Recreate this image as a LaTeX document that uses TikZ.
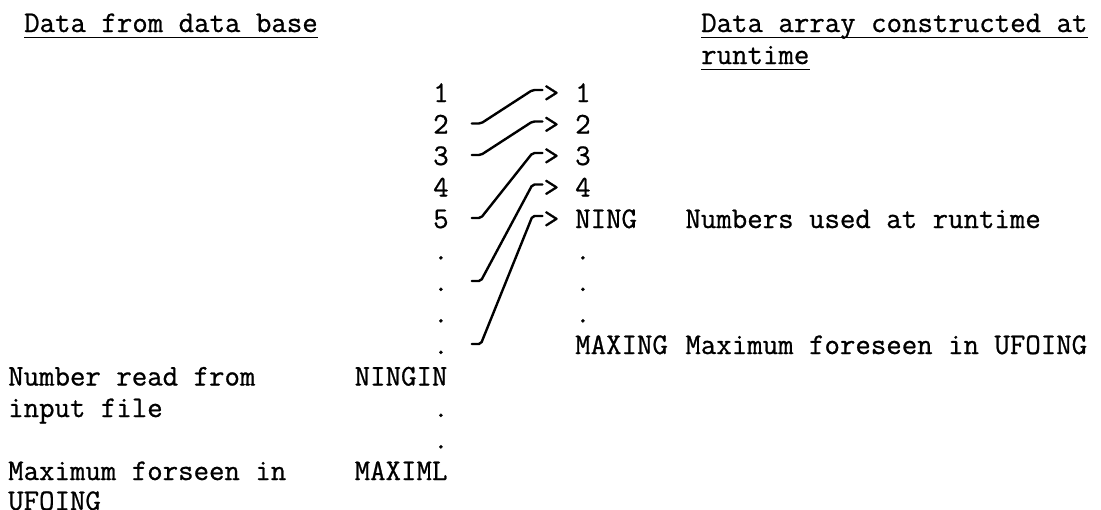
\documentclass[tikz,border=0pt]{standalone}
\usepackage{fontspec}
\usepackage{tikz}
\usetikzlibrary{calc}
\newfontfamily\typewriter{Latin Modern Mono}[FakeBold=0.8]

\begin{document}
\begin{tikzpicture}[x=1pt,y=-1pt]
		\useasboundingbox (0,0) rectangle (1101,509);
		\begin{scope}[every node/.style={anchor=base west,inner sep=0pt,text height=20pt,text depth=0pt,font=\typewriter\fontsize{30}{36}\selectfont}]
			% headings
			\node (hbase) at (24,32) {Data from data base};
			\node (harray) at (701,32) {Data array constructed at};
			\node (harray2) at (701,64) {runtime};

			% numbers in the data base
			\node (l1) at (433,102) {1};
			\node (l2) at (433,133.5) {2};
			\node (l3) at (433,165) {3};
			\node (l4) at (433,196.5) {4};
			\node (l5) at (433,228) {5};
			\node (ld1) at (433,259.5) {.};
			\node (ld2) at (433,291) {.};
			\node (ld3) at (433,322.5) {.};
			\node (ld4) at (433,354) {.};
			\node (ningin) at (354.5,385.5) {NINGIN};
			\node (ld5) at (433,417) {.};
			\node (ld6) at (433,448.5) {.};
			\node (maximl) at (354.5,480) {MAXIML};

			\node (nread) at (8,385.5) {Number read from};
			\node (nread2) at (8,417) {input file};
			\node (nmax) at (8,480) {Maximum forseen in};
			\node (nmax2) at (8,510) {UFOING};

			% array at runtime
			\node (g1) at (543.5,102) {>};
			\node (g2) at (543.5,133.5) {>};
			\node (g3) at (543.5,165) {>};
			\node (g4) at (543.5,196.5) {>};
			\node (g5) at (543.5,228) {>};

			\node (r1) at (575,102) {1};
			\node (r2) at (575,133.5) {2};
			\node (r3) at (575,165) {3};
			\node (r4) at (575,196.5) {4};
			\node (ning) at (575,228) {NING};
			\node (rd1) at (575,259.5) {.};
			\node (rd2) at (575,291) {.};
			\node (rd3) at (575,322.5) {.};
			\node (maxing) at (575,354) {MAXING};

			\node (nused) at (685.25,228) {Numbers used at runtime};
			\node (nufo) at (685.25,354) {Maximum foreseen in UFOING};
		\end{scope}

		% underlines
		\draw[line width=1.4pt] ($(hbase.south west)+(0,5)$) -- ($(hbase.south east)+(0,5)$);
		\draw[line width=1.4pt] ($(harray.south west)+(0,5)$) -- ($(harray.south east)+(0,5)$);
		\draw[line width=1.4pt] ($(harray2.south west)+(0,5)$) -- ($(harray2.south east)+(0,5)$);

		\begin{scope}[link/.style={draw=black,line width=2.4pt,line cap=round,rounded corners=2pt}]
			\draw[link] ($(l2.east)+(23,0)$) -- ++(9,0) -- ($(g1.west)+(-11,-2)$) -- ($(g1.west)+(-1,-2)$);
			\draw[link] ($(l3.east)+(23,0)$) -- ++(9,0) -- ($(g2.west)+(-11,-2)$) -- ($(g2.west)+(-1,-2)$);
			\draw[link] ($(l5.east)+(23,0)$) -- ++(9,0) -- ($(g3.west)+(-11,-2)$) -- ($(g3.west)+(-1,-2)$);
			\draw[link] ($(ld2.east)+(23,0)$) -- ++(9,0) -- ($(g4.west)+(-11,-2)$) -- ($(g4.west)+(-1,-2)$);
			\draw[link] ($(ld4.east)+(23,0)$) -- ++(9,0) -- ($(g5.west)+(-11,-2)$) -- ($(g5.west)+(-1,-2)$);
		\end{scope}
\end{tikzpicture}
\end{document}
